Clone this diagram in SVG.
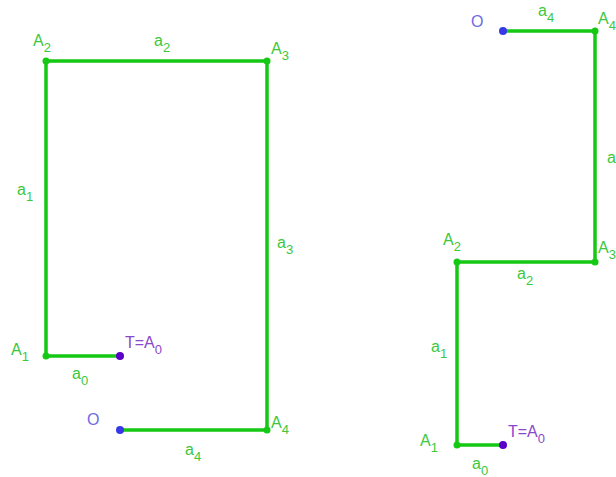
<svg xmlns="http://www.w3.org/2000/svg" width="616" height="477" viewBox="0 0 616 477">
<style>
.seg{stroke:#14c814;stroke-width:3.5;fill:none;stroke-linecap:round;stroke-linejoin:round}
.pt{fill:#14c814}
.lbl{font-family:"Liberation Sans",Arial,sans-serif;font-size:16px;fill:#3cc83c}
.lblO{font-family:"Liberation Sans",Arial,sans-serif;font-size:16px;fill:#6b6be0}
.lblT{font-family:"Liberation Sans",Arial,sans-serif;font-size:16px;fill:#8a48cc}
.sub{font-size:13px}
</style>
<rect width="616" height="477" fill="#ffffff"/>
<g id="connectors">
<polyline class="seg" points="120,356 46,356 46,61 267,61 267,430 120,430"/>
<polyline class="seg" points="503,445 457,445 457,262 595,262 595,31 503,31"/>
</g>
<g id="left">
<g id="L-A2"><circle class="pt" cx="46" cy="61" r="3.5"/><text class="lbl" x="33" y="46">A<tspan class="sub" dy="6">2</tspan></text></g>
<g id="L-A3"><circle class="pt" cx="267" cy="61" r="3.5"/><text class="lbl" x="271" y="54">A<tspan class="sub" dy="6">3</tspan></text></g>
<g id="L-A1"><circle class="pt" cx="46" cy="356" r="3.5"/><text class="lbl" x="11" y="355">A<tspan class="sub" dy="6">1</tspan></text></g>
<g id="L-T"><circle cx="120" cy="356" r="4" fill="#5a00c8"/><text class="lblT" x="125" y="348">T=A<tspan class="sub" dy="6">0</tspan></text></g>
<g id="L-O"><circle cx="120" cy="430" r="4" fill="#3838e8"/><text class="lblO" x="87" y="425">O</text></g>
<g id="L-A4"><circle class="pt" cx="267" cy="430" r="3.5"/><text class="lbl" x="271" y="428">A<tspan class="sub" dy="6">4</tspan></text></g>
<text class="lbl" x="154" y="46">a<tspan class="sub" dy="6">2</tspan></text>
<text class="lbl" x="17" y="195">a<tspan class="sub" dy="6">1</tspan></text>
<text class="lbl" x="277" y="248">a<tspan class="sub" dy="6">3</tspan></text>
<text class="lbl" x="72" y="379">a<tspan class="sub" dy="6">0</tspan></text>
<text class="lbl" x="185" y="455">a<tspan class="sub" dy="6">4</tspan></text>
</g>
<g id="right">
<g id="R-O"><circle cx="503" cy="31" r="4" fill="#3838e8"/><text class="lblO" x="471" y="27">O</text></g>
<g id="R-A4"><circle class="pt" cx="595" cy="31" r="3.5"/><text class="lbl" x="598" y="24">A<tspan class="sub" dy="6">4</tspan></text></g>
<g id="R-A3"><circle class="pt" cx="595" cy="262" r="3.5"/><text class="lbl" x="598" y="253">A<tspan class="sub" dy="6">3</tspan></text></g>
<g id="R-A2"><circle class="pt" cx="457" cy="262" r="3.5"/><text class="lbl" x="443" y="245">A<tspan class="sub" dy="6">2</tspan></text></g>
<g id="R-A1"><circle class="pt" cx="457" cy="445" r="3.5"/><text class="lbl" x="420" y="446">A<tspan class="sub" dy="6">1</tspan></text></g>
<g id="R-T"><circle cx="503" cy="445" r="4" fill="#5a00c8"/><text class="lblT" x="508" y="437">T=A<tspan class="sub" dy="6">0</tspan></text></g>
<text class="lbl" x="538" y="16">a<tspan class="sub" dy="6">4</tspan></text>
<text class="lbl" x="607" y="163">a<tspan class="sub" dy="6">3</tspan></text>
<text class="lbl" x="517" y="279">a<tspan class="sub" dy="6">2</tspan></text>
<text class="lbl" x="431" y="352">a<tspan class="sub" dy="6">1</tspan></text>
<text class="lbl" x="472" y="469">a<tspan class="sub" dy="6">0</tspan></text>
</g>
</svg>
